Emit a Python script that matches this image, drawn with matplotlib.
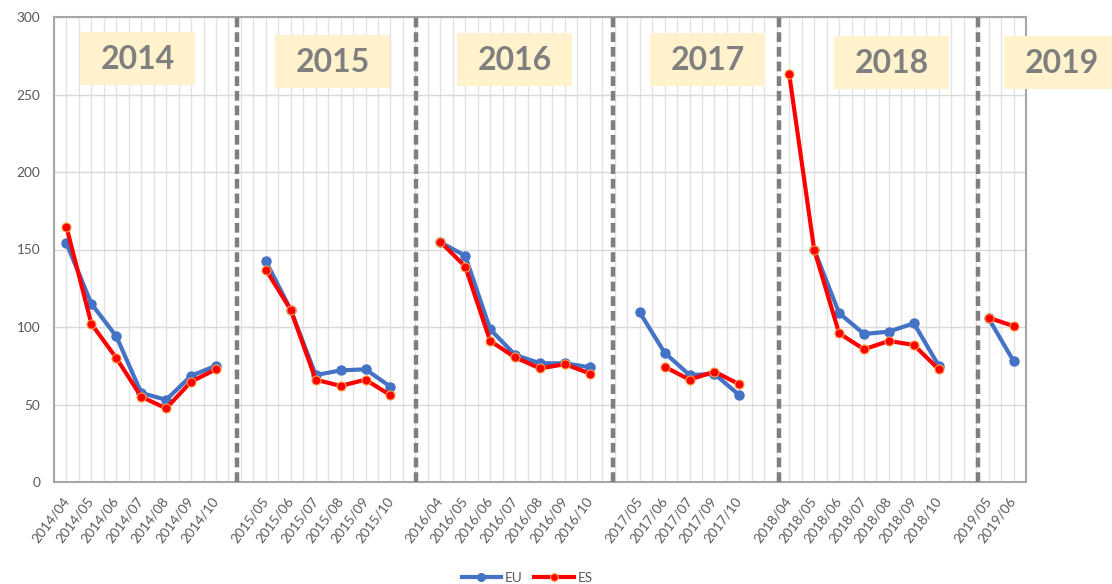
import numpy as np
import matplotlib
matplotlib.use("Agg")
import matplotlib.pyplot as plt
from matplotlib.patches import Rectangle
from matplotlib.lines import Line2D

nan = np.nan

# ---- data ----
labels = ["2014/04", "2014/05", "2014/06", "2014/07", "2014/08", "2014/09", "2014/10", "",
          "2015/05", "2015/06", "2015/07", "2015/08", "2015/09", "2015/10", "",
          "2016/04", "2016/05", "2016/06", "2016/07", "2016/08", "2016/09", "2016/10", "",
          "2017/05", "2017/06", "2017/07", "2017/09", "2017/10", "",
          "2018/04", "2018/05", "2018/06", "2018/07", "2018/08", "2018/09", "2018/10", "",
          "2019/05", "2019/06"]

eu = [154, 115, 94, 57.5, 53, 68.5, 75, nan,
      142.5, 111, 69, 72, 72.7, 61.5, nan,
      154.6, 146, 98.5, 82, 76.6, 76.6, 74, nan,
      109.5, 83.4, 69, 69.7, 56, nan,
      nan, 150, 109, 95.5, 97, 102.4, 75, nan,
      105.6, 78]

es = [164.5, 102, 80, 55, 47.5, 64.7, 72.7, nan,
      137, 111, 66, 62, 66, 56, nan,
      155, 139, 91, 80.4, 73.3, 76, 70, nan,
      nan, 74.4, 66, 71.2, 63, nan,
      263, 150, 96, 85.6, 91, 88.4, 72.7, nan,
      106, 100.6]

years = ["2014", "2015", "2016", "2017", "2018", "2019"]
series_names = ["EU", "ES"]

# ---- layout constants (pixels) ----
W, H = 1112, 584
year_boxes = [(80, 32), (275, 35), (457, 33), (650, 33), (834, 36), (1004, 36)]
box_w, box_h = 115, 53
sep_positions = [6.84, 14.03, 21.93, 28.59, 36.58]

plt.rcParams['font.family'] = ['Lato', 'DejaVu Sans']

fig = plt.figure(figsize=(W / 100, H / 100), dpi=100)
ax = fig.add_axes([54 / W, 1 - 482 / H, (1026 - 54) / W, (482 - 17) / H])

x = np.arange(len(labels))
ax.set_xlim(-0.5, len(labels) - 0.5)
ax.set_ylim(0, 300)

# grid
ax.set_yticks(np.arange(0, 301, 50))
ax.set_xticks(x)
ax.set_xticks(np.arange(-0.5, len(labels), 1.0), minor=True)
ax.grid(axis='y', which='major', color='#D9D9D9', lw=1.0, zorder=0)
ax.grid(axis='x', which='both', color='#E3E3E3', lw=1.0, zorder=0)
ax.set_axisbelow(True)

ax.tick_params(axis='both', which='both', length=0)
ax.tick_params(axis='y', labelsize=9.8, labelcolor='#595959', pad=10)
ax.set_xticklabels(labels, rotation=53, ha='right', va='center',
                   rotation_mode='anchor', fontsize=9.8, color='#595959')
ax.tick_params(axis='x', pad=12)

for s in ax.spines.values():
    s.set_color('#A6A6A6')
    s.set_linewidth(1.5)

# separators
for p in sep_positions:
    ax.axvline(p, color='#7F7F7F', lw=3.2, linestyle=(0, (2.2, 1.1)), zorder=3)

# series
ax.plot(x, eu, color='#4472C4', lw=3.0, marker='o', ms=6.5,
        markerfacecolor='#4472C4', markeredgecolor='#4472C4', zorder=4,
        solid_capstyle='round')
ax.plot(x, es, color='#FF0000', lw=3.0, marker='o', ms=6.5,
        markerfacecolor='#FF0000', markeredgecolor='#FFA040', markeredgewidth=0.8,
        zorder=5, solid_capstyle='round')

# year boxes
for (bx, by), yr in zip(year_boxes, years):
    fig.add_artist(Rectangle((bx / W, 1 - (by + box_h) / H), box_w / W, box_h / H,
                             transform=fig.transFigure, facecolor='#FFF2CC',
                             edgecolor='none', zorder=6))
    fig.text((bx + box_w / 2) / W, 1 - (by + box_h / 2 + 1) / H, yr,
             ha='center', va='center', fontsize=23, fontweight='bold',
             color='#7F7F7F', zorder=7)

# legend
handles = [Line2D([], [], color='#4472C4', lw=3.0, marker='o', ms=5.5),
           Line2D([], [], color='#FF0000', lw=3.0, marker='o', ms=5.5,
                  markeredgecolor='#FFA040', markeredgewidth=0.8)]
fig.legend(handles, series_names, loc='center', bbox_to_anchor=(527 / W, 1 - 578 / H),
           ncol=2, frameon=False, fontsize=9.8, handlelength=2.9,
           columnspacing=0.9, handletextpad=0.25, labelcolor='#595959')

fig.savefig("out.png", dpi=100)
